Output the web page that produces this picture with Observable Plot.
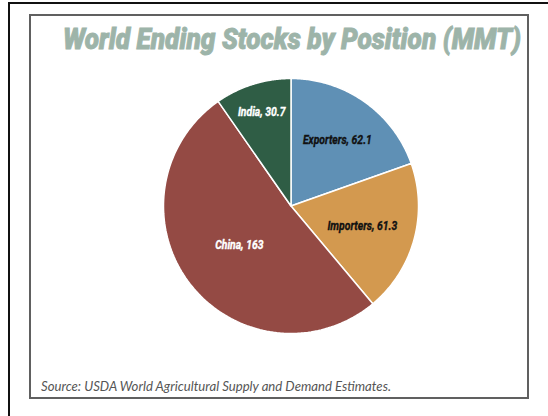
<!DOCTYPE html>
<html>
<head>
<meta charset="utf-8">
<script src="https://cdn.jsdelivr.net/npm/d3@7"></script>
<script src="https://cdn.jsdelivr.net/npm/@observablehq/plot@0.6"></script>
<style>
  html, body { margin: 0; padding: 0; background: #fff; width: 548px; height: 416px; overflow: hidden; }
  #outer { position: absolute; left: 8px; top: 2px; width: 700px; height: 600px;
           border-left: 2px solid #111; border-top: 2px solid #111; }
  #frame { position: absolute; left: 29px; top: 14px; width: 496px; height: 381px;
           border: 2px solid #606060; overflow: hidden; background: #fff; }
  #title { margin-top: 5px; height: 36px; line-height: 36px; padding-left: 32px; white-space: nowrap; }
  #title span { display: inline-block; transform-origin: 0 50%; font-family: Roboto, sans-serif;
                font-weight: 900; font-style: italic; font-size: 30px; color: #9db4a9;
                -webkit-text-stroke: 0.9px #9db4a9; }
  #chart svg { display: block; }
  #caption { height: 18px; line-height: 18px; padding-left: 10px; white-space: nowrap; }
  #caption span { display: inline-block; transform-origin: 0 50%; font-family: Lato, sans-serif;
                  font-style: italic; font-size: 12.5px; color: #555; }
</style>
</head>
<body>
<div id="outer"></div>
<div id="frame">
  <div id="title"><span>World Ending Stocks by Position (MMT)</span></div>
  <div id="chart"></div>
  <div id="caption"><span>Source: USDA World Agricultural Supply and Demand Estimates.</span></div>
</div>
<script>
// ---- data ----
const names = ["Exporters", "Importers", "China", "India"];
const values = [62.1, 61.3, 163, 30.7];
const colors = ["#5f90b5", "#d3994f", "#944a44", "#2f5d45"];

// ---- layout ----
const W = 496, H = 320;
const cx = 259.5, cy = 148.5, R = 127.5;            // pixel centre / radius inside the svg
const labelR = [0.63, 0.58, 0.51, 0.77];            // label distance as fraction of radius
const darkText = ["Exporters", "Importers"];

const arcs = d3.pie().sort(null)(values);
const poly = [];
const labels = [];
arcs.forEach((a, i) => {
  const name = names[i];
  poly.push({name, x: 0, y: 0});
  const n = 120;
  for (let k = 0; k <= n; k++) {
    const t = a.startAngle + (a.endAngle - a.startAngle) * k / n;
    poly.push({name, x: Math.sin(t), y: Math.cos(t)});
  }
  poly.push({name, x: 0, y: 0});
  const m = (a.startAngle + a.endAngle) / 2;
  labels.push({name, value: values[i], x: labelR[i] * Math.sin(m), y: labelR[i] * Math.cos(m),
               text: `${name}, ${values[i]}`});
});

const xDomain = [(0 - cx) / R, (W - cx) / R];
const yDomain = [-(H - cy) / R, cy / R];

const chart = Plot.plot({
  width: W, height: H, margin: 0,
  x: {axis: null, domain: xDomain, range: [0, W]},
  y: {axis: null, domain: yDomain, range: [H, 0]},
  color: {domain: names, range: colors},
  style: {background: "transparent", overflow: "visible"},
  marks: [
    Plot.line(poly, {x: "x", y: "y", z: "name", fill: "name", stroke: "white",
                     strokeWidth: 1.5, strokeLinejoin: "round"}),
    Plot.text(labels.filter(d => darkText.includes(d.name)),
              {x: "x", y: "y", text: "text", fill: "#111", stroke: "#111", strokeWidth: 0.35,
               fontSize: 12.5, fontFamily: "Roboto, sans-serif", fontWeight: "bold", fontStyle: "italic"}),
    Plot.text(labels.filter(d => !darkText.includes(d.name)),
              {x: "x", y: "y", text: "text", fill: "white", stroke: "white", strokeWidth: 0.35,
               fontSize: 12.5, fontFamily: "Roboto, sans-serif", fontWeight: "bold", fontStyle: "italic"})
  ]
});
document.getElementById("chart").appendChild(chart);

// condense label text (reference uses a condensed face)
chart.querySelectorAll("text").forEach(t => {
  const b = t.getBBox();
  const c = b.x + b.width / 2;
  const prev = t.getAttribute("transform") || "";
  t.setAttribute("transform", `${prev} translate(${c},0) scale(0.83,1) translate(${-c},0)`);
});

// fit title and caption widths
function fit(sel, target) {
  const el = document.querySelector(sel);
  const w = el.getBoundingClientRect().width;
  el.style.transform = `scaleX(${target / w})`;
}
fit("#title span", 458);
fit("#caption span", 350);
</script>
</body>
</html>
